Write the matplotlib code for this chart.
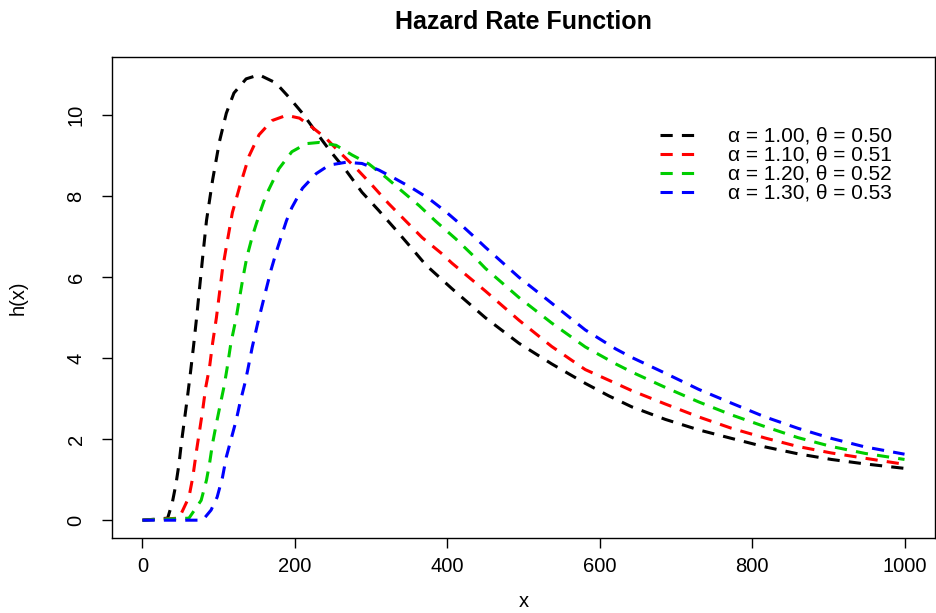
import matplotlib
matplotlib.use("Agg")
import matplotlib.pyplot as plt

plt.rcParams['font.family'] = ['Liberation Sans', 'DejaVu Sans']

# ---- data ----
black_x = [0, 33, 39, 44, 48, 51, 55, 59, 63, 67, 71, 75, 79, 84, 92, 101, 110, 120, 136, 153, 175, 192, 210,
           228, 245, 267, 288, 310, 333, 354, 372, 406, 450, 494, 537, 581, 612, 642, 686, 730, 773, 817,
           860, 904, 948, 1000]
black_y = [0, 0.05, 0.42, 0.9, 1.4, 1.9, 2.47, 3.04, 3.65, 4.3, 5.0, 5.75, 6.5, 7.4, 8.4, 9.35, 10.05, 10.55,
           10.9, 11.0, 10.8, 10.45, 10.05, 9.58, 9.15, 8.64, 8.1, 7.65, 7.16, 6.7, 6.3, 5.72, 5.0, 4.37, 3.86,
           3.38, 3.07, 2.8, 2.49, 2.23, 2.02, 1.81, 1.64, 1.5, 1.39, 1.28]

red_x = [0, 48, 61, 66, 71, 75, 79, 83, 88, 92, 97, 101, 105, 110, 115, 118, 127, 140, 153, 170, 189, 206,
         223, 241, 258, 280, 301, 323, 346, 367, 393, 406, 450, 494, 537, 581, 621, 642, 686, 730, 773, 817,
         860, 904, 948, 1000]
red_y = [0, 0.05, 0.57, 1.06, 1.73, 2.22, 2.72, 3.28, 3.78, 4.37, 5.0, 5.6, 6.2, 6.75, 7.28, 7.6, 8.2, 9.0,
         9.52, 9.87, 10.0, 9.93, 9.7, 9.43, 9.1, 8.7, 8.28, 7.82, 7.38, 6.98, 6.58, 6.35, 5.66, 4.94, 4.29,
         3.72, 3.38, 3.2, 2.87, 2.55, 2.27, 2.03, 1.82, 1.66, 1.53, 1.38]

green_x = [0, 61, 77, 84, 88, 92, 97, 102, 107, 111, 116, 123, 127, 132, 137, 144, 149, 156, 162, 179, 196,
           215, 232, 254, 275, 297, 320, 341, 363, 385, 411, 432, 450, 494, 537, 581, 621, 642, 686, 730, 773,
           817, 860, 904, 948, 1000]
green_y = [0, 0.05, 0.49, 0.99, 1.4, 1.9, 2.39, 2.85, 3.3, 3.75, 4.37, 5.0, 5.45, 6.0, 6.5, 7.0, 7.3, 7.7,
           8.02, 8.68, 9.1, 9.3, 9.33, 9.26, 9.02, 8.8, 8.46, 8.12, 7.77, 7.38, 6.95, 6.57, 6.22, 5.5, 4.87,
           4.28, 3.86, 3.66, 3.28, 2.92, 2.6, 2.31, 2.04, 1.82, 1.65, 1.5]

blue_x = [0, 79, 90, 98, 105, 110, 116, 123, 128, 134, 138, 144, 151, 157, 162, 169, 176, 182, 189, 196, 210,
          228, 245, 267, 288, 310, 333, 354, 376, 398, 419, 437, 450, 494, 537, 581, 621, 642, 686, 730, 773,
          817, 860, 904, 948, 1000]
blue_y = [0, 0, 0.25, 0.57, 1.06, 1.56, 1.98, 2.47, 2.9, 3.35, 3.7, 4.27, 4.85, 5.3, 5.68, 6.2, 6.65, 7.0,
          7.4, 7.72, 8.2, 8.56, 8.77, 8.84, 8.81, 8.65, 8.42, 8.2, 7.94, 7.62, 7.28, 6.97, 6.74, 6.0, 5.36,
          4.7, 4.23, 4.02, 3.63, 3.23, 2.89, 2.55, 2.27, 2.02, 1.81, 1.63]

labels = ["α = 1.00, θ = 0.50", "α = 1.10, θ = 0.51", "α = 1.20, θ = 0.52", "α = 1.30, θ = 0.53"]
colors = ["#000000", "#FF0000", "#00CD00", "#0000FF"]
x_ticks = [0, 200, 400, 600, 800, 1000]
y_ticks = [0, 2, 4, 6, 8, 10]

series = [(black_x, black_y), (red_x, red_y), (green_x, green_y), (blue_x, blue_y)]

fig = plt.figure(figsize=(9.36, 6.13), dpi=100)
ax = fig.add_axes([112 / 936, (613 - 538) / 613, (935 - 112) / 936, (538 - 57) / 613])

for (xs, ys), c, lab in zip(series, colors, labels):
    ax.plot(xs, ys, color=c, lw=2.2, linestyle=(0, (4, 3)), label=lab)

ax.set_xlim(-40, 1040)
ax.set_ylim(-0.44, 11.44)
ax.set_xticks(x_ticks)
ax.set_yticks(y_ticks)
ax.set_yticklabels([str(v) for v in y_ticks], rotation=90, va='center')
ax.tick_params(axis='both', direction='out', length=7, width=1, labelsize=14.5)
ax.tick_params(axis='x', pad=7)
ax.tick_params(axis='y', pad=12)
for s in ax.spines.values():
    s.set_linewidth(1)

ax.set_xlabel("x", fontsize=14.5, labelpad=11)
ax.set_ylabel("h(x)", fontsize=14.5, labelpad=28)
ax.set_title("Hazard Rate Function", fontsize=18, fontweight='bold', pad=20)

ax.legend(loc='upper left', bbox_to_anchor=(0.656, 0.872), frameon=False, fontsize=15,
          handlelength=1.9, handletextpad=1.35, labelspacing=0.0, borderaxespad=0)

fig.savefig("out.png", dpi=100)
